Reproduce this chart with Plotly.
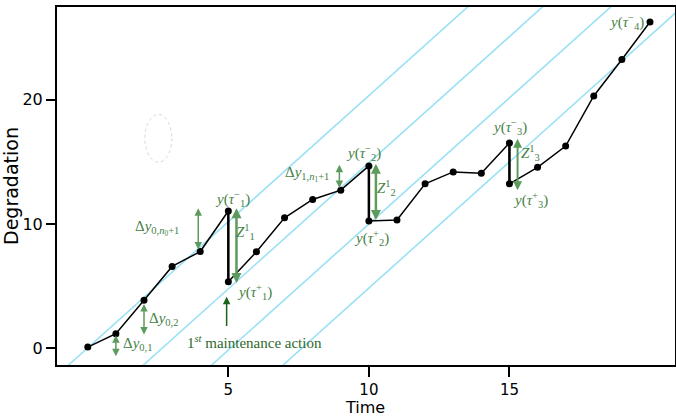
import plotly.graph_objects as go

# ---- data ----
time_vals = [0, 1, 2, 3, 4, 5, 5, 6, 7, 8, 9, 10, 10, 11, 12, 13, 14, 15, 15, 16, 17, 18, 19, 20]
degradation = [0.1, 1.18, 3.87, 6.59, 7.79, 11.05, 5.36, 7.77, 10.5, 11.98, 12.73, 14.68,
               10.25, 10.33, 13.24, 14.2, 14.09, 16.52, 13.24, 14.57, 16.28, 20.31, 23.24, 26.26]
threshold_slope = 2.03
threshold_roots = [-0.02, 2.64, 5.07, 7.61]
x_ticks = [5, 10, 15]
y_ticks = [0, 10, 20]

CYAN = "rgb(155,225,245)"
GREEN = "rgb(92,155,92)"
GREEN_TXT = "rgb(70,130,70)"
DARK_GREEN = "rgb(25,100,25)"
SERIF = "Liberation Serif, DejaVu Serif, serif"

fig = go.Figure()

# parallel cyan threshold lines
t_lo, t_hi = -2, 22
for c in threshold_roots:
    fig.add_trace(go.Scatter(x=[t_lo, t_hi],
                             y=[threshold_slope * (t_lo - c), threshold_slope * (t_hi - c)],
                             mode="lines", line=dict(color=CYAN, width=1.6),
                             hoverinfo="skip", showlegend=False))

# degradation path
fig.add_trace(go.Scatter(x=time_vals, y=degradation, mode="lines+markers",
                         line=dict(color="black", width=1.5),
                         marker=dict(color="black", size=7), showlegend=False))

# maintenance drops (thicker vertical segments)
for i in range(len(time_vals) - 1):
    if time_vals[i] == time_vals[i + 1]:
        fig.add_trace(go.Scatter(x=[time_vals[i], time_vals[i + 1]],
                                 y=[degradation[i], degradation[i + 1]],
                                 mode="lines", line=dict(color="black", width=2.5),
                                 hoverinfo="skip", showlegend=False))

anns = []


def arrow(x, y0, y1, width=1.5, color=GREEN, double=True, size=1.0):
    anns.append(dict(x=x, y=y1, ax=x, ay=y0, xref="x", yref="y", axref="x", ayref="y",
                     text="", showarrow=True, arrowhead=2, arrowsize=size,
                     arrowwidth=width, arrowcolor=color,
                     arrowside="end+start" if double else "end",
                     standoff=0, startstandoff=0))


def label(x, y, txt, size=15, color=GREEN_TXT):
    anns.append(dict(x=x, y=y, xref="x", yref="y", text=txt, showarrow=False,
                     font=dict(family=SERIF, size=size, color=color)))


arrow(1.0, 1.18, -0.64)
arrow(2.0, 3.68, 1.12)
arrow(3.93, 11.4, 7.95)
arrow(5.29, 11.4, 5.26, width=2.5, size=0.8)
arrow(4.94, 1.68, 4.16, width=1.5, color=DARK_GREEN, double=False)
arrow(8.95, 14.9, 12.9)
arrow(10.25, 14.98, 10.33, width=2.5, size=0.8)
arrow(15.29, 16.98, 12.73, width=2.0, size=0.9)

label(1.78, 0.35, "Δ<i>y</i><sub>0,1</sub>")
label(2.7, 2.35, "Δ<i>y</i><sub>0,2</sub>")
label(2.45, 9.65, "Δ<i>y</i><sub>0,<i>n</i><sub>0</sub>+1</sub>")
label(5.62, 9.35, "<i>Z</i><sup>1</sup><sub>1</sub>")
label(5.14, 12.05, "<i>y</i>(<i>τ</i><sup>−</sup><sub>1</sub>)")
label(5.92, 4.55, "<i>y</i>(<i>τ</i><sup>+</sup><sub>1</sub>)")
label(5.92, 0.55, "1<sup><i>st</i></sup> maintenance action", color="rgb(45,105,45)")
label(7.8, 14.0, "Δ<i>y</i><sub>1,<i>n</i><sub>1</sub>+1</sub>")
label(9.8, 15.75, "<i>y</i>(<i>τ</i><sup>−</sup><sub>2</sub>)")
label(10.62, 12.9, "<i>Z</i><sup>1</sup><sub>2</sub>")
label(10.08, 8.85, "<i>y</i>(<i>τ</i><sup>+</sup><sub>2</sub>)")
label(15.0, 17.8, "<i>y</i>(<i>τ</i><sup>−</sup><sub>3</sub>)")
label(15.75, 15.7, "<i>Z</i><sup>1</sup><sub>3</sub>")
label(15.75, 11.9, "<i>y</i>(<i>τ</i><sup>+</sup><sub>3</sub>)")
label(19.15, 26.3, "<i>y</i>(<i>τ</i><sup>−</sup><sub>4</sub>)")

# x-axis title placed just under the tick labels
anns.append(dict(x=0.498, y=-0.118, xref="paper", yref="paper", text="Time",
                 showarrow=False, yanchor="middle",
                 font=dict(family="DejaVu Sans", size=16, color="black")))

fig.update_layout(
    width=676, height=416,
    margin=dict(l=57, r=1, t=7, b=51, autoexpand=False),
    paper_bgcolor="white", plot_bgcolor="white",
    annotations=anns,
    shapes=[dict(type="circle", xref="x", yref="y", x0=2.03, x1=2.99, y0=14.98, y1=18.82,
                 line=dict(color="rgb(215,215,215)", width=1, dash="dot"))],
    font=dict(family="DejaVu Sans", color="black"),
    xaxis=dict(range=[-1.095, 20.89], tickvals=x_ticks, ticktext=[str(v) for v in x_ticks],
               showgrid=False, zeroline=False, showline=True, mirror=True, automargin=False,
               linecolor="black", linewidth=2, ticks="outside", ticklen=10, tickwidth=1.5,
               tickcolor="black", tickfont=dict(size=15)),
    yaxis=dict(range=[-1.34, 27.47], tickvals=y_ticks, ticktext=[str(v) for v in y_ticks],
               showgrid=False, zeroline=False, showline=True, mirror=True, automargin=False,
               linecolor="black", linewidth=2, ticks="outside", ticklen=9, tickwidth=1.5,
               tickcolor="black", tickfont=dict(size=16),
               title=dict(text="Degradation", font=dict(size=19), standoff=0)),
)

fig.write_html("out.html", config={"displayModeBar": False},
               post_script="document.body.style.margin='0px';document.body.style.padding='0px';")
